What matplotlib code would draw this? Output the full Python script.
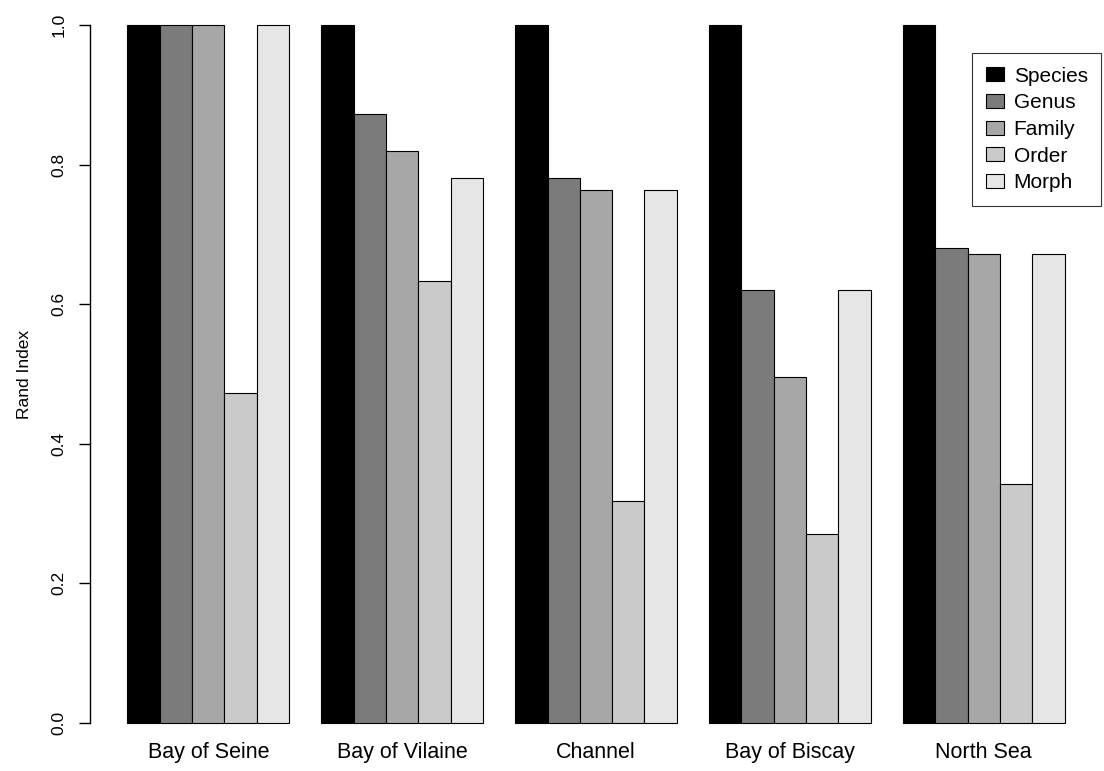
import matplotlib
import matplotlib.pyplot as plt
import numpy as np

matplotlib.use("Agg")
plt.rcParams["font.family"] = ["Liberation Sans", "DejaVu Sans"]

regions = ["Bay of Seine", "Bay of Vilaine", "Channel", "Bay of Biscay", "North Sea"]
levels = ["Species", "Genus", "Family", "Order", "Morph"]

# Rand index per taxonomic level, one list per region
bay_of_seine = [1.000, 1.000, 1.000, 0.473, 1.000]
bay_of_vilaine = [1.000, 0.873, 0.820, 0.633, 0.781]
channel = [1.000, 0.781, 0.763, 0.318, 0.763]
bay_of_biscay = [1.000, 0.620, 0.495, 0.271, 0.620]
north_sea = [1.000, 0.681, 0.672, 0.342, 0.672]

yticks = [0.0, 0.2, 0.4, 0.6, 0.8, 1.0]
greys = ["#000000", "#7b7b7b", "#a7a7a7", "#cacaca", "#e6e6e6"]

values = np.array([bay_of_seine, bay_of_vilaine, channel, bay_of_biscay, north_sea])

fig = plt.figure(figsize=(11.04, 7.71), dpi=100)
ax = fig.add_axes([90 / 1104, 48 / 771, 1012 / 1104, 698 / 771])

# barplot(beside=TRUE) layout: unit-width bars, one unit gap before each group
n_groups, n_levels = values.shape
for k in range(n_levels):
    lefts = 1 + np.arange(n_groups) * (n_levels + 1) + k
    ax.bar(lefts, values[:, k], width=1.0, align="edge", color=greys[k],
           edgecolor="black", linewidth=0.8, label=levels[k], clip_on=False)

centers = 1 + np.arange(n_groups) * (n_levels + 1) + n_levels / 2
ax.set_xlim(-0.16, 31.16)
ax.set_ylim(0, 1)

for side in ["top", "right", "bottom"]:
    ax.spines[side].set_visible(False)
ax.spines["left"].set_linewidth(1.0)

ax.set_xticks(centers)
ax.set_xticklabels(regions, fontsize=15.5)
ax.tick_params(axis="x", length=0, pad=14)

ax.set_yticks(yticks)
ax.set_yticklabels([f"{t:.1f}" for t in yticks], rotation=90, va="center",
                   fontsize=12.5)
ax.tick_params(axis="y", length=8, width=1.0, pad=9)
ax.set_ylabel("Rand Index", fontsize=12.5, labelpad=14)

leg = ax.legend(loc="upper left", bbox_to_anchor=(972 / 1104, 1 - 53 / 771),
                bbox_transform=fig.transFigure, frameon=True, fancybox=False,
                fontsize=15, handlelength=0.9, handleheight=0.65,
                handletextpad=0.45, labelspacing=0.37, borderpad=0.65,
                borderaxespad=0)
leg.get_frame().set_edgecolor("black")
leg.get_frame().set_linewidth(0.8)

fig.savefig("out.png", dpi=100)
